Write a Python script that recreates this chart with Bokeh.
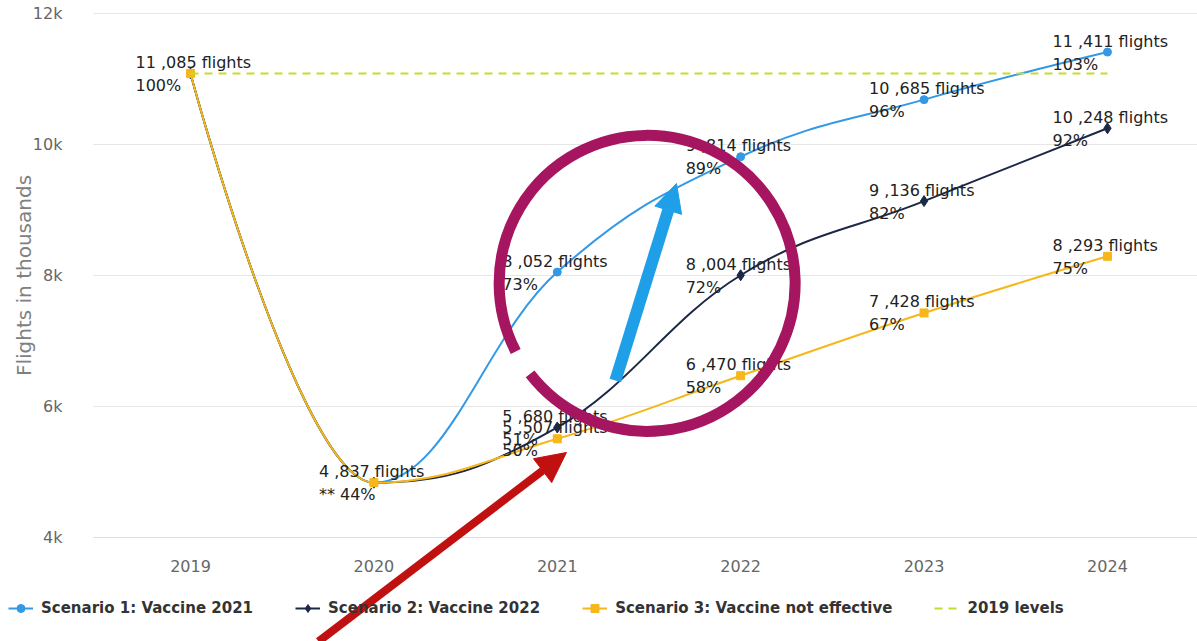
from bokeh.plotting import figure
from bokeh.models import Range1d, FixedTicker, Legend, LegendItem, Arrow, NormalHead
from bokeh.core.properties import value
from bokeh.embed import file_html
from bokeh.resources import INLINE

# ---------------- data ----------------
years = [2019, 2020, 2021, 2022, 2023, 2024]
year_labels = ["2019", "2020", "2021", "2022", "2023", "2024"]
scenario1 = [11085, 4837, 8052, 9814, 10685, 11411]
scenario2 = [11085, 4837, 5680, 8004, 9136, 10248]
scenario3 = [11085, 4837, 5507, 6470, 7428, 8293]
levels_2019 = [11085, 11085, 11085, 11085, 11085, 11085]
base_2019 = 11085
series_names = ["Scenario 1: Vaccine 2021", "Scenario 2: Vaccine 2022",
                "Scenario 3: Vaccine not effective", "2019 levels"]
y_ticks = [4000, 6000, 8000, 10000, 12000]
y_tick_labels = ["4k", "6k", "8k", "10k", "12k"]
# data labels that are visible (overlapping duplicates hidden)
show1 = [False, False, True, True, True, True]
show2 = [False, False, True, True, True, True]
show3 = [True, True, True, True, True, True]
pct_prefix = ["", "** ", "", "", "", ""]

# ---------------- style / layout ----------------
C1 = "#3399e6"
C2 = "#1b2846"
C3 = "#f5b71a"
C4 = "#c6dc2c"
LABEL_FONT = value("DejaVu Sans")
X_START, X_END = 2017.964, 2024.491      # canvas edges
PLOT_LEFT = 2018.471                     # left edge of plotting area
Y_START, Y_END = 2412.2, 12198.5


def spline(xs, ys, smoothing=1.5):
    n = len(xs)
    lc = [(xs[i], ys[i]) for i in range(n)]
    rc = [(xs[i], ys[i]) for i in range(n)]
    d = smoothing + 1
    for i in range(1, n - 1):
        x, y = xs[i], ys[i]
        lx, ly = xs[i - 1], ys[i - 1]
        nx, ny = xs[i + 1], ys[i + 1]
        lcx = (smoothing * x + lx) / d
        lcy = (smoothing * y + ly) / d
        rcx = (smoothing * x + nx) / d
        rcy = (smoothing * y + ny) / d
        corr = (rcy - lcy) * (rcx - x) / (rcx - lcx) + y - rcy
        lcy += corr
        rcy += corr
        if lcy > ly and lcy > y:
            lcy = max(ly, y); rcy = 2 * y - lcy
        elif lcy < ly and lcy < y:
            lcy = min(ly, y); rcy = 2 * y - lcy
        if rcy > ny and rcy > y:
            rcy = max(ny, y); lcy = 2 * y - rcy
        elif rcy < ny and rcy < y:
            rcy = min(ny, y); lcy = 2 * y - rcy
        lc[i] = (lcx, lcy)
        rc[i] = (rcx, rcy)
    return dict(x0=xs[:-1], y0=ys[:-1], x1=xs[1:], y1=ys[1:],
                cx0=[rc[i][0] for i in range(n - 1)], cy0=[rc[i][1] for i in range(n - 1)],
                cx1=[lc[i + 1][0] for i in range(n - 1)], cy1=[lc[i + 1][1] for i in range(n - 1)])


def fmt(v):
    return f"{v // 1000} ,{v % 1000:03d} flights"


p = figure(width=1197, height=641, output_backend="svg", toolbar_location=None,
           x_range=Range1d(X_START, X_END), y_range=Range1d(Y_START, Y_END),
           min_border=0, min_border_left=0, min_border_right=0,
           min_border_top=0, min_border_bottom=0)
p.outline_line_color = None
p.background_fill_color = "white"
p.border_fill_color = "white"
p.xgrid.visible = False
p.ygrid.visible = False

# horizontal grid lines
p.segment(x0=PLOT_LEFT, x1=X_END, y0=y_ticks, y1=y_ticks, line_color="#e6e6e6", line_width=1)

p.yaxis.fixed_location = PLOT_LEFT
p.yaxis.bounds = (y_ticks[0], y_ticks[-1])
p.yaxis.ticker = FixedTicker(ticks=y_ticks)
p.yaxis.major_label_overrides = {t: l for t, l in zip(y_ticks, y_tick_labels)}
p.yaxis.axis_line_color = None
p.yaxis.major_tick_line_color = None
p.yaxis.minor_tick_line_color = None
p.yaxis.major_label_standoff = 25
p.yaxis.major_label_text_font = "DejaVu Sans"
p.yaxis.major_label_text_font_size = "16px"
p.yaxis.major_label_text_color = "#666666"
p.yaxis.axis_label = "Flights in thousands"
p.yaxis.axis_label_text_font = "DejaVu Sans"
p.yaxis.axis_label_text_font_size = "20px"
p.yaxis.axis_label_text_font_style = "normal"
p.yaxis.axis_label_text_color = "#808080"
p.yaxis.axis_label_standoff = -6

p.xaxis.fixed_location = y_ticks[0]
p.xaxis.bounds = (PLOT_LEFT, X_END)
p.xaxis.ticker = FixedTicker(ticks=years)
p.xaxis.major_label_overrides = {y: l for y, l in zip(years, year_labels)}
p.xaxis.axis_line_color = "#d6dde8"
p.xaxis.major_tick_line_color = None
p.xaxis.minor_tick_line_color = None
p.xaxis.major_label_standoff = 17
p.xaxis.major_label_text_font = "DejaVu Sans"
p.xaxis.major_label_text_font_size = "16px"
p.xaxis.major_label_text_color = "#666666"

series = [(scenario1, C1, "circle", 8), (scenario2, C2, "diamond", 11),
          (scenario3, C3, "square", 8)]
legend_items = []
for (vals, col, mk, sz), name in zip(series, series_names[:3]):
    seg = spline(years, vals)
    r_line = p.bezier(**seg, line_color=col, line_width=2)
    r_pts = p.scatter(years, vals, marker=mk, size=sz, fill_color=col, line_color=col)
    legend_items.append(LegendItem(label=name, renderers=[r_line, r_pts]))

r_lvl = p.line(years, levels_2019, line_color=C4, line_width=2, line_dash="8 6")
legend_items.append(LegendItem(label=series_names[3], renderers=[r_lvl]))

# data labels
for vals, show in [(scenario1, show1), (scenario2, show2), (scenario3, show3)]:
    xs = [x for x, s in zip(years, show) if s]
    ys = [v for v, s in zip(vals, show) if s]
    t1 = [fmt(v) for v, s in zip(vals, show) if s]
    t2 = [f"{pre}{round(v / base_2019 * 100)}%" for v, s, pre in zip(vals, show, pct_prefix) if s]
    p.text(xs, ys, text=t1, x_offset=-55, y_offset=-11, text_font=LABEL_FONT,
           text_font_size="16px", text_color="#222222", text_align="left", text_baseline="middle")
    p.text(xs, ys, text=t2, x_offset=-55, y_offset=12, text_font=LABEL_FONT,
           text_font_size="16px", text_color="#222222", text_align="left", text_baseline="middle")

# hand-drawn annotations (positions in data units)
p.arc(x=[2021.49], y=[7880], radius=148, radius_units="screen",
      start_angle=3.80, end_angle=3.62 + 6.283, direction="anticlock",
      line_color="#a51560", line_width=11)
p.add_layout(Arrow(end=NormalHead(size=28, fill_color="#1e9fe8", line_color="#1e9fe8"),
                   x_start=2021.317, y_start=6397, x_end=2021.65, y_end=9405,
                   line_color="#1e9fe8", line_width=12))
p.add_layout(Arrow(end=NormalHead(size=30, fill_color="#c0100f", line_color="#c0100f"),
                   x_start=2019.698, y_start=2412, x_end=2021.05, y_end=5298,
                   line_color="#c0100f", line_width=8))

legend = Legend(items=legend_items, orientation="horizontal", location=(8, 23),
                glyph_width=25, glyph_height=20, label_standoff=8, spacing=42,
                padding=0, margin=0, border_line_color=None, background_fill_alpha=0,
                label_text_font="DejaVu Sans", label_text_font_style="bold",
                label_text_font_size="15px", label_text_color="#333333")
p.add_layout(legend)

open("out.html", "w").write(file_html(p, INLINE))
